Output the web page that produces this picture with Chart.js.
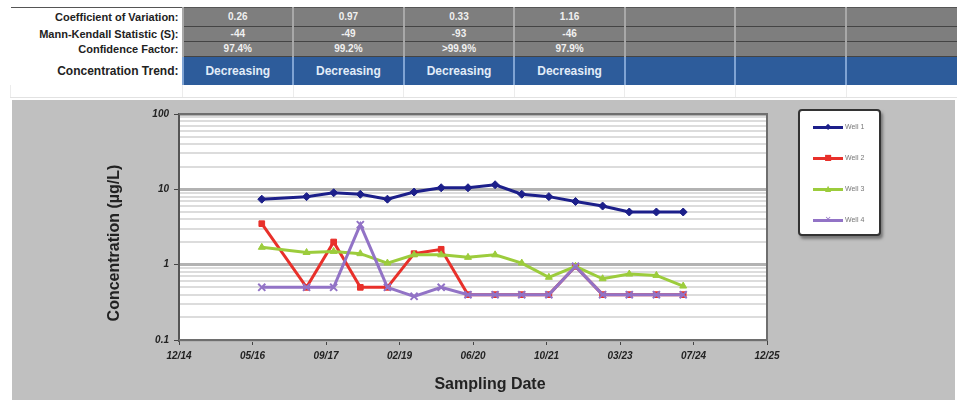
<!DOCTYPE html>
<html>
<head>
<meta charset="utf-8">
<script src="https://cdn.jsdelivr.net/npm/chart.js@4.4.0/dist/chart.umd.min.js"></script>
<style>
  body { margin: 0; width: 961px; height: 400px; background: #fff; position: relative; overflow: hidden; font-family: "Liberation Sans", Arial, sans-serif; }
  #stats { position: absolute; left: 10px; top: 7px; border-collapse: collapse; table-layout: fixed; border-top: 1px solid #555; }
  #stats td { padding: 0; height: 14px; line-height: 14px; font-size: 10px; font-weight: bold; text-align: center; color: #f0f0f0; background: #7e7e7e; border-left: 2px solid #a8a8a8; border-bottom: 1px solid #444; white-space: nowrap; overflow: hidden; }
  #stats tr.first td { height: 18px; line-height: 18px; }
  #stats td.lab { background: #fff; color: #222; text-align: right; padding-right: 3px; border-left: none; border-bottom: none; font-family: "Liberation Sans Narrow", "Liberation Sans", Arial, sans-serif; font-size: 11px; }
  #stats tr.trend td { background: #2d5c9b; color: #e2ecf8; height: 28px; line-height: 28px; font-size: 12px; border-left-color: #7fa3d3; border-bottom: none; }
  #stats tr.trend td.lab { background: #fff; color: #222; }
  #stats tr.blank td { background: #fff; height: 12px; border-bottom: 1px solid #e2e2e2; border-left: 1px solid #ececec; }
  #panel { position: absolute; left: 12px; top: 100px; width: 943px; height: 300px; background: #c0c0c0; }
  #legend { position: absolute; left: 798px; top: 109px; width: 79px; height: 123px; background: #fff; border: 2px solid #333; border-radius: 4px; box-shadow: 2px 3px 3px #777; }
  #legend .item { position: absolute; left: 13px; height: 10px; width: 64px; }
  #legend .ln { position: absolute; left: 0; top: 4px; width: 30px; height: 3px; }
  #legend .mk { position: absolute; left: 10px; top: -2px; width: 10px; text-align: center; font-size: 8px; line-height: 14px; font-family: "DejaVu Sans", sans-serif; }
  #legend .tx { position: absolute; left: 32px; top: 0; font-size: 7px; line-height: 10px; color: #777; }
</style>
</head>
<body>
<table id="stats"></table>
<div id="panel"><canvas id="chart" width="943" height="300"></canvas></div>
<div id="legend"></div>
<script>
// summary table
const statLabels = ["Coefficient of Variation:", "Mann-Kendall Statistic (S):", "Confidence Factor:", "Concentration Trend:"];
const coefVariation = ["0.26", "0.97", "0.33", "1.16", "", "", ""];
const mannKendall = ["-44", "-49", "-93", "-46", "", "", ""];
const confidence = ["97.4%", "99.2%", ">99.9%", "97.9%", "", "", ""];
const trend = ["Decreasing", "Decreasing", "Decreasing", "Decreasing", "", "", ""];

// chart data
const wellNames = ["Well 1", "Well 2", "Well 3", "Well 4"];
const sampleDates = ["2016-07-15", "2017-05-15", "2017-11-15", "2018-05-15", "2018-11-15", "2019-05-15",
  "2019-11-15", "2020-05-15", "2020-11-15", "2021-05-15", "2021-11-15", "2022-05-15", "2022-11-15",
  "2023-05-15", "2023-11-15", "2024-05-15"];
const well1 = [7.4, 8.0, 9.0, 8.6, 7.4, 9.2, 10.5, 10.5, 11.5, 8.6, 8.0, 6.9, 6.0, 5.0, 5.0, 5.0];
const well2 = [3.5, 0.5, 2.0, 0.5, 0.5, 1.4, 1.6, 0.4, 0.4, 0.4, 0.4, 0.95, 0.4, 0.4, 0.4, 0.4];
const well3 = [1.7, 1.45, 1.5, 1.4, 1.05, 1.35, 1.35, 1.25, 1.35, 1.05, 0.68, 0.95, 0.65, 0.75, 0.72, 0.52];
const well4 = [0.5, 0.5, 0.5, 3.4, 0.5, 0.38, 0.5, 0.4, 0.4, 0.4, 0.4, 0.95, 0.4, 0.4, 0.4, 0.4];
const xTickLabels = ["12/14", "05/16", "09/17", "02/19", "06/20", "10/21", "03/23", "07/24", "12/25"];
const yTickValues = [0.1, 1, 10, 100];
const yTickLabels = ["0.1", "1", "10", "100"];

const seriesColors = ["#1c1f8a", "#e8302a", "#9ccc3c", "#9273c6"];
const seriesPoints = ["rectRot", "rect", "triangle", "crossRot"];
const legendGlyphs = ["\u25C6", "\u25A0", "\u25B2", "\u2715"];

// build table
const table = document.getElementById("stats");
const colgroup = document.createElement("colgroup");
colgroup.innerHTML = '<col style="width:172px">' + coefVariation.map(() => '<col style="width:110.6px">').join("");
table.appendChild(colgroup);
[coefVariation, mannKendall, confidence, trend].forEach((vals, r) => {
  const tr = document.createElement("tr");
  if (r === 0) tr.className = "first";
  if (r === 3) tr.className = "trend";
  tr.innerHTML = `<td class="lab">${statLabels[r]}</td>` + vals.map(v => `<td>${v.replace(">", "&gt;")}</td>`).join("");
  table.appendChild(tr);
});
const blank = document.createElement("tr");
blank.className = "blank";
blank.innerHTML = '<td class="lab"></td>' + coefVariation.map(() => "<td></td>").join("");
table.appendChild(blank);

// legend
const legend = document.getElementById("legend");
wellNames.forEach((name, i) => {
  const item = document.createElement("div");
  item.className = "item";
  item.style.top = (11 + i * 31) + "px";
  item.innerHTML = `<span class="ln" style="background:${seriesColors[i]}"></span>` +
    `<span class="mk" style="color:${seriesColors[i]}">${legendGlyphs[i]}</span>` +
    `<span class="tx">${name}</span>`;
  legend.appendChild(item);
});

const DAY = 86400000;
const toDay = s => Date.parse(s + "T00:00:00Z") / DAY;
const xStart = toDay("2014-12-31");
const xStepDays = 499;
const sampleDays = sampleDates.map(toDay);

const isDecade = v => yTickValues.some(t => Math.abs(t - v) < 1e-9);
const yGrid = [];
[0.1, 1, 10].forEach(d => { for (let m = 1; m <= 9; m++) yGrid.push(Number((m * d).toPrecision(3))); });
yGrid.push(100);

const allWells = [well1, well2, well3, well4];
const datasets = allWells.map((vals, i) => ({
  label: wellNames[i],
  data: vals.map((v, k) => ({ x: sampleDays[k], y: v })),
  borderColor: seriesColors[i],
  backgroundColor: seriesColors[i],
  borderWidth: 3,
  pointStyle: seriesPoints[i],
  pointRadius: i === 3 ? 5 : 4,
  pointBorderWidth: i === 3 ? 2 : 1,
  order: 4 - i,
  tension: 0
}));

const frame = {
  id: "frame",
  beforeDraw(chart) {
    const { ctx, chartArea: a } = chart;
    ctx.save();
    ctx.fillStyle = "#fff";
    ctx.fillRect(a.left, a.top, a.right - a.left, a.bottom - a.top);
    ctx.restore();
  },
  beforeDatasetsDraw(chart) {
    const { ctx, chartArea: a } = chart;
    ctx.save();
    ctx.strokeStyle = "#6e6e6e";
    ctx.lineWidth = 2;
    ctx.beginPath();
    ctx.moveTo(a.left, a.top);
    ctx.lineTo(a.right, a.top);
    ctx.lineTo(a.right, a.bottom);
    ctx.lineTo(a.left, a.bottom);
    ctx.stroke();
    ctx.restore();
  },
  afterDraw(chart) {
    const { ctx, chartArea: a } = chart;
    ctx.save();
    ctx.fillStyle = "#222";
    ctx.font = 'bold 16px "Liberation Sans", Arial, sans-serif';
    ctx.textAlign = "center";
    ctx.textBaseline = "middle";
    ctx.fillText("Sampling Date", (a.left + a.right) / 2 + 17, 285);
    ctx.translate(103, (a.top + a.bottom) / 2 + 16);
    ctx.rotate(-Math.PI / 2);
    ctx.fillText("Concentration (\u00b5g/L)", 0, 0);
    ctx.restore();
  }
};

const tickFont = { family: "Liberation Sans", size: 10, weight: "bold", style: "italic" };

new Chart(document.getElementById("chart"), {
  type: "line",
  data: { datasets },
  options: {
    responsive: false,
    animation: false,
    layout: { padding: { left: 90, right: 188, top: 14, bottom: 0 } },
    plugins: { legend: { display: false }, tooltip: { enabled: false } },
    scales: {
      x: {
        type: "linear",
        min: xStart,
        max: xStart + xStepDays * (xTickLabels.length - 1),
        afterBuildTicks(axis) {
          axis.ticks = xTickLabels.map((_, i) => ({ value: xStart + i * xStepDays }));
        },
        afterFit(axis) { axis.height = 60; },
        ticks: {
          autoSkip: false, maxRotation: 0, padding: 5, color: "#222", font: tickFont,
          callback: (v, i) => xTickLabels[i]
        },
        grid: { drawOnChartArea: false, tickLength: 5, color: "#444" },
        border: { color: "#555", width: 2 }
      },
      y: {
        type: "logarithmic",
        min: 0.1,
        max: 100,
        afterBuildTicks(axis) {
          axis.ticks = yGrid.map(v => ({ value: v, major: isDecade(v) }));
        },
        afterFit(axis) { axis.width = 77; },
        ticks: {
          autoSkip: false, padding: 5, color: "#222", font: tickFont,
          callback: v => {
            const k = yTickValues.findIndex(t => Math.abs(t - v) < 1e-9);
            return k >= 0 ? yTickLabels[k] : "";
          }
        },
        grid: {
          tickLength: 5,
          color: c => isDecade(c.tick.value) ? "#b2b2b2" : "#dcdcdc",
          lineWidth: c => isDecade(c.tick.value) ? 3 : 2,
          tickColor: c => isDecade(c.tick.value) ? "#444" : "rgba(0,0,0,0)",
          tickWidth: 1
        },
        border: { color: "#555", width: 2 }
      }
    }
  },
  plugins: [frame]
});
</script>
</body>
</html>
